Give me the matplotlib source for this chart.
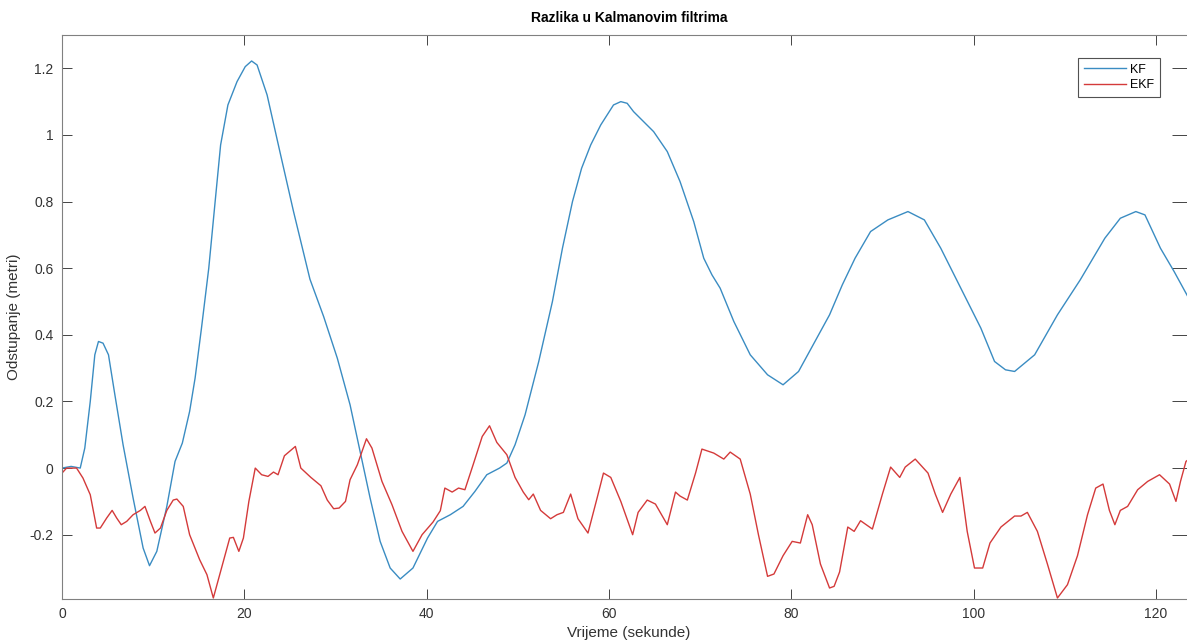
"""
Razlika u Kalmanovim filtrima - KF vs EKF deviation over time.
Values read off the reference MATLAB figure.
"""
import matplotlib
matplotlib.use("Agg")
import matplotlib.pyplot as plt
from matplotlib.ticker import FuncFormatter

# KF deviation (metres) vs time (s)
kf_t = [0.0, 1.0, 2.0, 2.5, 3.1, 3.6, 4.0, 4.5, 5.1, 5.8, 6.7, 7.8, 8.9, 9.6,
        10.4, 11.5, 12.4, 13.2, 14.0, 14.6, 15.3, 16.1, 16.8, 17.4, 18.2, 19.2,
        20.1, 20.8, 21.4, 22.5, 23.9, 25.4, 27.2, 28.7, 30.2, 31.6, 32.7, 33.8,
        34.9, 36.0, 37.1, 38.5, 40.1, 41.2, 42.6, 44.0, 45.3, 46.6, 48.0, 48.8,
        49.7, 50.8, 52.3, 53.8, 54.9, 56.0, 57.0, 58.0, 59.1, 60.5, 61.3, 62.0,
        62.7, 64.9, 66.4, 67.8, 69.3, 70.4, 71.3, 72.2, 73.7, 75.5, 77.4, 79.1,
        80.8, 82.6, 84.2, 85.6, 87.0, 88.7, 90.6, 92.8, 94.6, 96.4, 98.6, 100.8,
        102.3, 103.5, 104.5, 106.7, 109.2, 111.7, 114.4, 116.1, 117.8, 118.8,
        120.5, 122.0, 123.8]
kf_y = [0.0, 0.005, 0.0, 0.06, 0.20, 0.34, 0.38, 0.375, 0.34, 0.22, 0.07, -0.09,
        -0.24, -0.293, -0.25, -0.115, 0.02, 0.075, 0.17, 0.27, 0.42, 0.60, 0.80,
        0.97, 1.09, 1.16, 1.205, 1.222, 1.21, 1.12, 0.95, 0.77, 0.567, 0.455,
        0.33, 0.19, 0.05, -0.09, -0.22, -0.30, -0.333, -0.30, -0.21, -0.16,
        -0.14, -0.115, -0.07, -0.02, 0.0, 0.015, 0.07, 0.16, 0.32, 0.50, 0.66,
        0.80, 0.90, 0.97, 1.03, 1.09, 1.10, 1.095, 1.07, 1.01, 0.95, 0.86, 0.74,
        0.63, 0.58, 0.54, 0.44, 0.34, 0.28, 0.25, 0.29, 0.38, 0.46, 0.55, 0.63,
        0.71, 0.745, 0.77, 0.745, 0.66, 0.54, 0.42, 0.32, 0.295, 0.29, 0.34,
        0.46, 0.565, 0.69, 0.75, 0.77, 0.76, 0.66, 0.59, 0.50]

# EKF deviation (metres) vs time (s)
ekf_t = [0.0, 0.5, 1.6, 2.3, 3.1, 3.8, 4.2, 4.9, 5.5, 6.0, 6.5, 7.1, 7.8, 8.6,
         9.1, 9.7, 10.2, 10.8, 11.5, 12.2, 12.6, 13.3, 14.0, 15.1, 15.9, 16.6,
         17.3, 18.4, 18.8, 19.4, 19.9, 20.5, 21.2, 21.9, 22.6, 23.2, 23.7, 24.4,
         25.6, 26.2, 27.3, 28.4, 29.1, 29.8, 30.4, 31.1, 31.6, 32.4, 33.4, 34.0,
         35.1, 36.2, 37.3, 38.5, 39.5, 40.7, 41.5, 42.0, 42.8, 43.5, 44.2, 45.1,
         46.1, 46.9, 47.7, 48.8, 49.7, 50.6, 51.2, 51.7, 52.5, 53.6, 54.3, 55.0,
         55.8, 56.6, 57.7, 58.7, 59.4, 60.2, 61.3, 62.6, 63.2, 64.2, 65.1, 66.4,
         67.3, 67.8, 68.6, 69.5, 70.2, 71.5, 72.6, 73.3, 74.4, 75.5, 76.4, 77.4,
         78.1, 79.1, 80.1, 81.0, 81.8, 82.3, 83.2, 84.2, 84.7, 85.3, 86.2, 86.9,
         87.6, 88.9, 90.0, 90.9, 91.9, 92.5, 93.6, 95.0, 95.8, 96.6, 97.5, 98.5,
         99.3, 100.1, 101.0, 101.8, 103.0, 104.5, 105.2, 105.9, 107.0, 108.1,
         109.2, 110.3, 111.4, 112.5, 113.4, 114.2, 114.9, 115.5, 116.1, 116.9,
         118.0, 119.1, 120.4, 121.5, 122.2, 122.7, 123.3, 123.8]
ekf_y = [-0.015, 0.0, 0.0, -0.03, -0.08, -0.18, -0.18, -0.15, -0.127, -0.15,
         -0.17, -0.16, -0.14, -0.127, -0.115, -0.16, -0.195, -0.18, -0.127,
         -0.096, -0.093, -0.115, -0.2, -0.275, -0.32, -0.39, -0.32, -0.21,
         -0.208, -0.25, -0.21, -0.10, 0.0, -0.02, -0.025, -0.012, -0.02, 0.037,
         0.065, 0.0, -0.028, -0.053, -0.096, -0.122, -0.12, -0.10, -0.035, 0.01,
         0.088, 0.06, -0.04, -0.11, -0.19, -0.25, -0.20, -0.162, -0.128, -0.06,
         -0.072, -0.06, -0.065, 0.01, 0.095, 0.127, 0.077, 0.04, -0.028, -0.072,
         -0.095, -0.078, -0.127, -0.152, -0.14, -0.133, -0.078, -0.152, -0.195,
         -0.09, -0.015, -0.028, -0.10, -0.20, -0.133, -0.096, -0.108, -0.17,
         -0.072, -0.084, -0.096, -0.015, 0.057, 0.045, 0.027, 0.048, 0.027,
         -0.078, -0.20, -0.325, -0.318, -0.263, -0.22, -0.225, -0.14, -0.17,
         -0.288, -0.36, -0.355, -0.312, -0.177, -0.19, -0.158, -0.183, -0.078,
         0.003, -0.028, 0.003, 0.027, -0.015, -0.078, -0.133, -0.078, -0.028,
         -0.19, -0.30, -0.30, -0.225, -0.177, -0.144, -0.144, -0.133, -0.19,
         -0.288, -0.39, -0.35, -0.263, -0.14, -0.06, -0.048, -0.127, -0.17,
         -0.127, -0.115, -0.065, -0.04, -0.02, -0.048, -0.10, -0.04, 0.02, 0.03]

yticks = [-0.2, 0, 0.2, 0.4, 0.6, 0.8, 1.0, 1.2]
xticks = [0, 20, 40, 60, 80, 100, 120]

C_KF = "#3a8cc2"
C_EKF = "#d43a3a"
AX_COL = "#262626"

W, H = 1187, 644
fig = plt.figure(figsize=(W / 100, H / 100), dpi=100)
plt.rcParams["font.family"] = ["Liberation Sans", "DejaVu Sans"]

# axes box in pixels: left 62, right just past the image edge, top 35, bottom 599
L, R, T, B = 62, 1196, 35, 599
ax = fig.add_axes([L / W, (H - B) / H, (R - L) / W, (B - T) / H])

ax.plot(kf_t, kf_y, color=C_KF, lw=1.0, label="KF")
ax.plot(ekf_t, ekf_y, color=C_EKF, lw=1.0, label="EKF")

ax.set_xlim(0, 124.4)
ax.set_ylim(-0.393, 1.3)
ax.set_xticks(xticks)
ax.set_yticks(yticks)
ax.yaxis.set_major_formatter(FuncFormatter(lambda v, p: f"{v:g}"))
ax.tick_params(direction="in", length=7, width=0.6, colors=AX_COL,
               labelsize=10, top=True, right=True, pad=6)
ax.tick_params(axis="y", which="both", right=True)
ax.tick_params(axis="both", labelcolor="#333333")
ax.yaxis.set_tick_params(length=7)
for s in ax.spines.values():
    s.set_color("#808080")
    s.set_linewidth(0.8)
ax.tick_params(axis="y", right=True, length=7)
# right ticks are longer so that they reach into the visible part of the image
for t in ax.yaxis.get_major_ticks():
    t.tick2line.set_markersize(17)

ax.set_title("Razlika u Kalmanovim filtrima", fontsize=10, fontweight="bold",
             color="black", pad=9)
ax.set_xlabel("Vrijeme (sekunde)", fontsize=11, color="#333333", labelpad=3)
ax.set_ylabel("Odstupanje (metri)", fontsize=11, color="#333333", labelpad=6)

leg = ax.legend(loc="upper right", bbox_to_anchor=((1160 - L) / (R - L), (B - 58) / (B - T)),
                borderaxespad=0, fontsize=9, frameon=True, fancybox=False,
                handlelength=3.4, handletextpad=0.3, borderpad=0.45, labelspacing=0.3)
leg.get_frame().set_edgecolor("#262626")
leg.get_frame().set_linewidth(0.8)

fig.savefig("out.png", dpi=100)
